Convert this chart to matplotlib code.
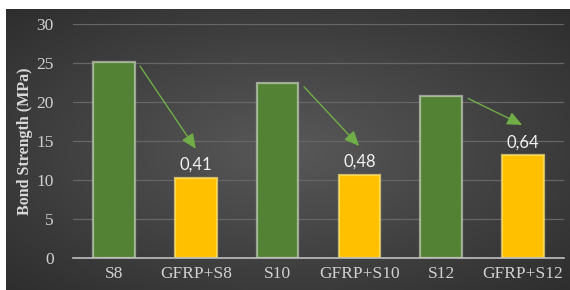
import numpy as np
import matplotlib.pyplot as plt
from matplotlib.colors import LinearSegmentedColormap

# data
categories = ['S8', 'GFRP+S8', 'S10', 'GFRP+S10', 'S12', 'GFRP+S12']
strength = [25.1, 10.3, 22.4, 10.7, 20.8, 13.2]
ratio_labels = ['0,41', '0,48', '0,64']
yticks = [0, 5, 10, 15, 20, 25, 30]

green = '#548235'
yellow = '#FFC000'
colors = [green, yellow] * 3
glow = [(0.85, 0.88, 0.82, 0.6), (1.0, 0.9, 0.45, 0.7)] * 3

fig = plt.figure(figsize=(5.7, 2.9), dpi=100)

# dark radial gradient background (leaves a thin white strip left and top)
bg = fig.add_axes([6 / 570, 0, 564 / 570, 281 / 290])
yy, xx = np.mgrid[-1:1:200j, -1:1:400j]
r = np.sqrt(xx**2 + yy**2) / np.sqrt(2)
cmap = LinearSegmentedColormap.from_list('bg', ['#585858', '#2e2e2e'])
bg.imshow(r, cmap=cmap, aspect='auto', extent=[0, 1, 0, 1])
bg.set_axis_off()

ax = fig.add_axes([73 / 570, 32 / 290, 491 / 570, 234 / 290])
ax.patch.set_alpha(0)
x = np.arange(len(categories))
ax.bar(x, strength, width=0.51, color=colors, edgecolor=glow, linewidth=1.6, zorder=3)
ax.set_xlim(-0.5, len(categories) - 0.5)
ax.set_ylim(0, 30)
ax.set_yticks(yticks)
ax.set_xticks(x)
ax.set_xticklabels(categories)
ax.grid(axis='y', color='#666666', linewidth=0.9, zorder=0)
for s in ['top', 'right', 'left']:
    ax.spines[s].set_visible(False)
ax.spines['bottom'].set_color('#bfbfbf')
ax.spines['bottom'].set_linewidth(1.2)
ax.spines['bottom'].set_zorder(4)
ax.tick_params(length=0, colors='#d0d0d0', labelsize=12.5)
ax.tick_params(axis='y', pad=14)
ax.tick_params(axis='x', pad=6)
for lab in ax.get_xticklabels() + ax.get_yticklabels():
    lab.set_fontfamily('Liberation Serif')
ax.set_ylabel('Bond Strength (MPa)', family='Liberation Serif', fontweight='bold',
              fontsize=11.5, color='#d9d9d9', labelpad=2)

# reduction arrows and ratio labels
for i, lab in enumerate(ratio_labels):
    g = 2 * i
    yv = g + 1
    ax.text(yv, strength[yv] + 0.6, lab, ha='center', va='bottom', color='#f2f2f2',
            fontsize=12, family='Lato', zorder=5)
    top = strength[yv] + 3.4 if i < 2 else strength[yv] + 3.7
    ax.annotate('', xy=(yv + 0.02, top), xytext=(g + 0.3, strength[g] - 0.2),
                arrowprops=dict(arrowstyle='-|>,head_length=0.9,head_width=0.4',
                                color='#70AD47', lw=1.0), zorder=5)

fig.savefig('out.png', dpi=100)
